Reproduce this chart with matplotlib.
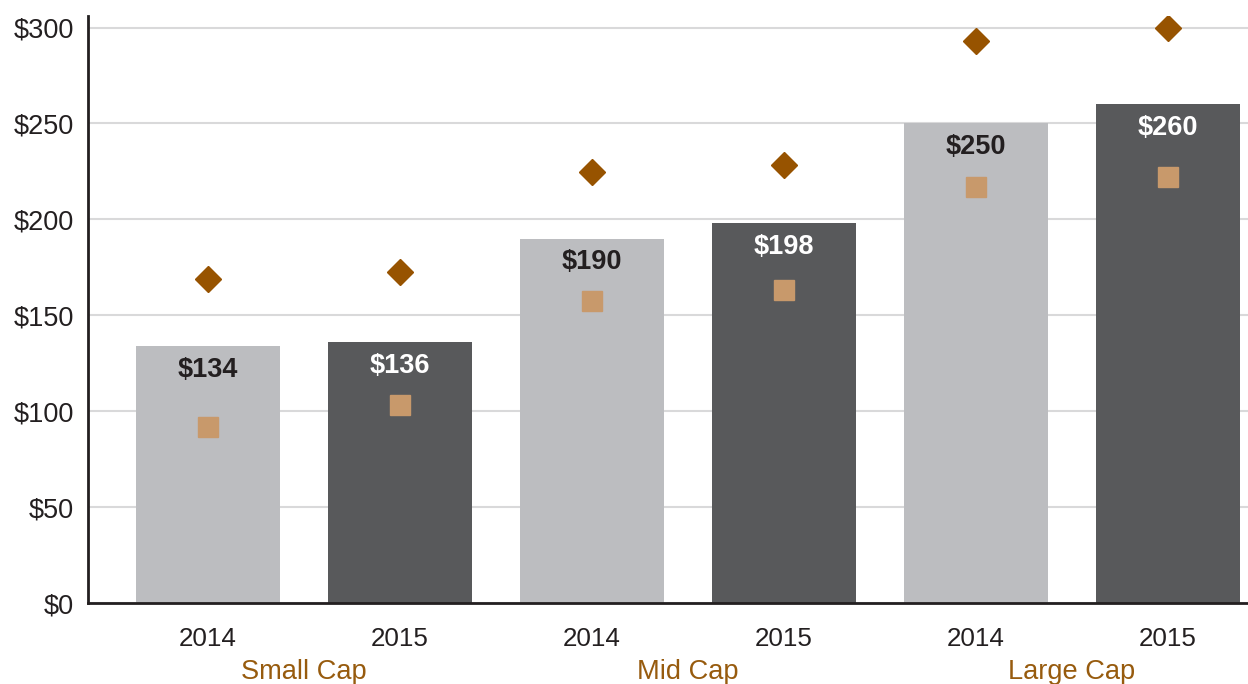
import matplotlib
matplotlib.use("Agg")
import matplotlib.pyplot as plt

years = ["2014", "2015", "2014", "2015", "2014", "2015"]
categories = ["Small Cap", "Mid Cap", "Large Cap"]
bar_values = [134, 136, 190, 198, 250, 260]
diamond_values = [169, 172.5, 224.5, 228.5, 293, 300]
square_values = [92, 103, 157.5, 163, 217, 222]
yticks = [0, 50, 100, 150, 200, 250, 300]

plt.rcParams['font.family'] = ['Liberation Sans', 'DejaVu Sans']

light = "#BCBDC0"
dark = "#58595B"
colors = [light, dark] * 3
label_colors = ["#231F20", "white"] * 3

fig = plt.figure(figsize=(12.48, 6.84), dpi=100)
ax = fig.add_axes([0.0705, 0.1184, 0.9295, 0.8582])

x = list(range(len(bar_values)))
ax.bar(x, bar_values, width=0.75, color=colors, zorder=2)
ax.plot(x, diamond_values, linestyle='none', marker='D', markersize=13.5,
        color="#975300", zorder=3)
ax.plot(x, square_values, linestyle='none', marker='s', markersize=14.2,
        color="#C8996B", zorder=3)

for xi, v, c in zip(x, bar_values, label_colors):
    ax.annotate(f"${v}", (xi, v), xytext=(0, -17), textcoords='offset points',
                ha='center', va='center', fontsize=19.5, fontweight='bold', color=c, zorder=4)

ax.set_xlim(-0.625, 5.417)
ax.set_ylim(0, 306)
ax.set_yticks(yticks)
ax.set_yticklabels([f"${t}" for t in yticks], fontsize=19.5, color="#231F20")
ax.set_xticks(x)
ax.set_xticklabels(years, fontsize=18.7, color="#231F20")
ax.tick_params(axis='both', length=0)
ax.tick_params(axis='x', pad=17)
ax.tick_params(axis='y', pad=10)

ax.yaxis.grid(True, color="#D9D9DA", linewidth=1.5, zorder=0)
ax.set_axisbelow(True)
for s in ['top', 'right']:
    ax.spines[s].set_visible(False)
ax.spines['left'].set_linewidth(2)
ax.spines['left'].set_color("#231F20")
ax.spines['bottom'].set_linewidth(2)
ax.spines['bottom'].set_color("#231F20")

for i, cat in enumerate(categories):
    ax.annotate(cat, (2 * i + 0.5, 0), xycoords=('data', 'axes fraction'),
                xytext=(0, -49.5), textcoords='offset points', ha='center', va='center',
                fontsize=19.6, color="#975B0E")

fig.savefig("out.png", dpi=100)
